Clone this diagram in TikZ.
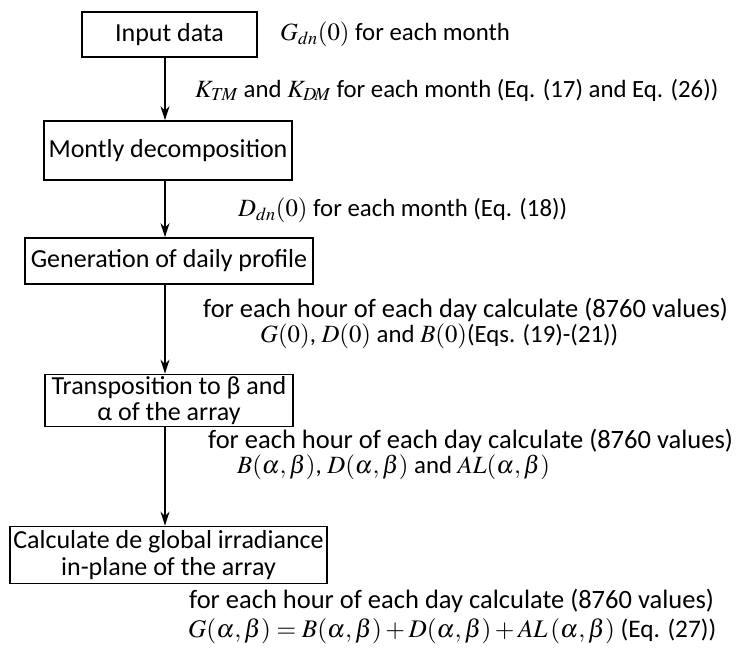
\documentclass[tikz,border=0pt]{standalone}
\usepackage{mathptmx}
\usepackage[no-math]{fontspec}
\setmainfont{Carlito}
\usetikzlibrary{arrows.meta}
\tikzset{
    box/.style={draw, rectangle, line width=1.8pt, inner sep=0pt, align=center,
        font=\fontsize{26}{26.5}\selectfont},
    note/.style={anchor=west, inner sep=0pt, font=\fontsize{26.5}{30}\selectfont},
    eqnote/.style={note, font=\fontsize{24.8}{30}\selectfont},
    arr/.style={line width=1.8pt, -{Stealth[length=14pt,width=9pt]}}
}

\begin{document}
\begin{tikzpicture}[x=1pt, y=-1pt]
  \useasboundingbox (0,0) rectangle (738,650);

  \node[box, minimum width=175pt, minimum height=45pt] (b1) at (169.5, 34.5) {Input data};
  \node[box, minimum width=248pt, minimum height=59pt] (b2) at (168, 150.5) {Montly decomposition};
  \node[box, minimum width=288pt, minimum height=46pt] (b3) at (169, 261) {Generation of daily profile};
  \node[box, minimum width=248pt, minimum height=52pt] (b4) at (169, 400.5) {Transposition to β and\\α of the array};
  \node[box, minimum width=317pt, minimum height=57pt] (b5) at (168.5, 555) {Calculate de global irradiance\\in-plane of the array};

  \coordinate (ax) at (165, 0);

  \node[eqnote] (t1) at (280, 34) {$G_{dn}(0)$ for each month};
  \node[eqnote] (t2) at (195, 90) {$K_{T\!M}$ and $K_{D\!M}$ for each month (Eq. (17) and Eq. (26))};
  \node[eqnote] (t3) at (238, 210) {$D_{dn}(0)$ for each month (Eq. (18))};
  \node[note] (t4a) at (203, 310) {for each hour of each day calculate (8760 values)};
  \node[eqnote] (t4b) at (260, 336) {$G(0)$, $D(0)$ and $B(0)$(Eqs. (19)-(21))};
  \node[note] (t5a) at (208, 441) {for each hour of each day calculate (8760 values)};
  \node[eqnote] (t5b) at (237, 467) {$B(\alpha,\beta)$, $D(\alpha,\beta)$ and $AL(\alpha,\beta)$};
  \node[note] (t6a) at (189, 601) {for each hour of each day calculate (8760 values)};
  \node[note, font=\fontsize{25.3}{30}\selectfont] (t6b) at (188, 631) {$G(\alpha,\beta)=B(\alpha,\beta)+D(\alpha,\beta)+AL\,(\alpha,\beta)$ (Eq. (27))};

  \draw[arr] (b1.south -| ax) -- (b2.north -| ax);
  \draw[arr] (b2.south -| ax) -- (b3.north -| ax);
  \draw[arr] (b3.south -| ax) -- (b4.north -| ax);
  \draw[arr] (b4.south -| ax) -- (b5.north -| ax);
\end{tikzpicture}
\end{document}
